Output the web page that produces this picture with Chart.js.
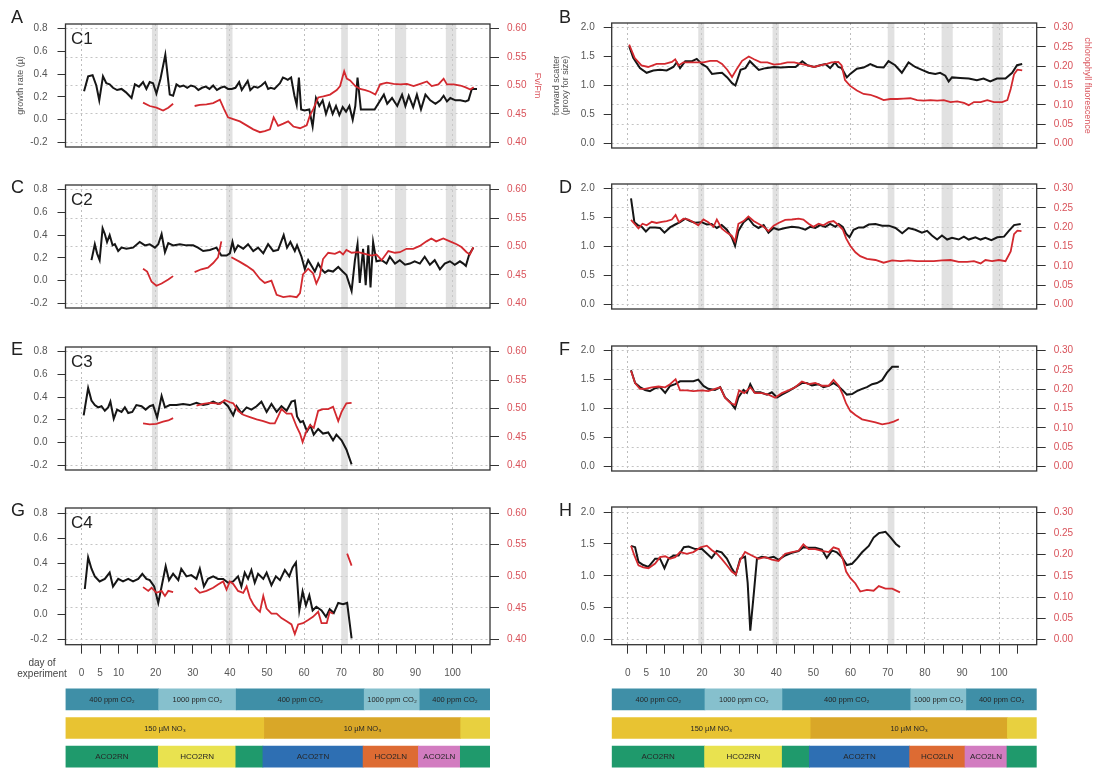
<!DOCTYPE html>
<html>
<head>
<meta charset="utf-8">
<script src="https://cdn.jsdelivr.net/npm/chart.js@4"></script>
<style>
html,body{margin:0;padding:0;background:#fff;width:1096px;height:769px;overflow:hidden;position:relative;}
canvas{position:absolute;}
.lbl{position:absolute;font-family:"Liberation Sans",Arial,sans-serif;line-height:1;color:#222;white-space:nowrap;}
</style>
</head>
<body>
<script>
// ---------- axis ticks and day layout ----------
const dayTicks = [0,5,10,15,20,25,30,35,40,45,50,55,60,65,70,75,80,85,90,95,100,105];
const dayLabels = [0,5,10,20,30,40,50,60,70,80,90,100];
const growthTicks = [-0.2,0,0.2,0.4,0.6,0.8];
const fvfmTicks = [0.40,0.45,0.50,0.55,0.60];
const scatterTicks = [0,0.5,1.0,1.5,2.0];
const chlTicks = [0,0.05,0.10,0.15,0.20,0.25,0.30];

// sampling pauses (shaded days)
const pauseStart = [19.0, 39.0, 70.0, 84.5, 98.2];
const pauseEnd   = [20.6, 40.7, 71.8, 87.5, 101.0];

// ---------- culture C1 ----------
const c1Growth = [[0.7,0.25],[1.8,0.38],[3,0.39],[4,0.30],[4.8,0.17],[5.8,0.38],[6.7,0.32],[7.6,0.31],[8.5,0.28],[9.6,0.26],[10.8,0.27],[12,0.24],[13.5,0.19],[14.4,0.31],[15.5,0.29],[16.6,0.33],[17.5,0.27],[18.4,0.33],[19.3,0.32],[20.2,0.23],[21.3,0.36],[22.6,0.57],[23.8,0.22],[24.7,0.21],[25.6,0.31],[26.5,0.29],[27.5,0.30],[28.5,0.28],[29.5,0.30],[30.5,0.29],[31.5,0.26],[32.5,0.28],[33.5,0.29],[34.5,0.27],[35.5,0.30],[36.5,0.26],[37.5,0.28],[38.5,0.29],[39.5,0.27],[40.5,0.27],[41.5,0.28],[42.5,0.33],[43.2,0.26],[44,0.30],[44.8,0.34],[45.5,0.26],[46.5,0.29],[47.5,0.28],[48.5,0.30],[49.5,0.33],[50.3,0.27],[51,0.28],[52,0.27],[53.5,0.32],[54.3,0.37],[55,0.36],[55.6,0.35],[56.5,0.37],[57.4,0.21],[58,0.13],[58.6,0.37],[59.2,0.09],[60.1,0.08],[61.4,0.09],[62.3,-0.06],[63.2,0.19],[64.1,0.12],[65,0.17],[65.9,0.05],[66.8,0.14],[67.7,0.05],[68.6,0.12],[69.5,0.04],[70.4,0.11],[71.3,0.07],[72.2,0.12],[73.1,0.00],[73.8,0.12],[74.4,0.37],[75.3,0.09],[77,0.09],[79,0.09],[81.5,0.22],[82.4,0.14],[83.7,0.19],[85.1,0.12],[86.4,0.22],[87.3,0.12],[88.2,0.21],[89.4,0.11],[90.4,0.22],[91.5,0.09],[92.7,0.22],[94,0.17],[95.4,0.14],[96.7,0.17],[97.6,0.21],[98.5,0.16],[99.4,0.19],[100.8,0.17],[102.1,0.17],[103.5,0.16],[104.3,0.17],[105.2,0.27],[106.6,0.27]];
const c1FvFm = [[16.6,0.470],[18.4,0.464],[20.2,0.461],[22,0.456],[23.4,0.461],[24.7,0.468],[27,null],[30.5,0.464],[31.9,0.466],[33.7,0.467],[35.5,0.469],[37.3,0.475],[38.4,0.459],[39.5,0.444],[40.9,0.441],[42.7,0.437],[44.5,0.430],[46.3,0.423],[48.1,0.418],[49.4,0.420],[50.8,0.423],[51.8,0.444],[53,0.429],[54.4,0.433],[55.7,0.437],[57.1,0.428],[58.9,0.425],[60.7,0.430],[61.6,0.448],[62.5,0.459],[63.8,0.479],[65.2,0.481],[67,0.484],[68.8,0.492],[69.7,0.499],[70.8,0.525],[71.5,0.512],[72.4,0.509],[73.8,0.499],[75.1,0.494],[76.5,0.492],[77.8,0.489],[79.2,0.484],[80.5,0.502],[82.3,0.505],[84.1,0.503],[85.9,0.502],[87.7,0.503],[89.5,0.499],[91.3,0.503],[93.1,0.507],[94.4,0.499],[96.2,0.502],[97.6,0.512],[98.5,0.502],[100.3,0.502],[102.1,0.500],[103.4,0.497],[104.8,0.493],[105.7,0.497]];
const c1Scatter = [[0.4,1.68],[1.5,1.48],[3.3,1.30],[5.1,1.22],[6.9,1.26],[8.7,1.27],[10.5,1.26],[12.3,1.32],[13.2,1.40],[14.1,1.30],[15.5,1.42],[17.3,1.42],[18.6,1.46],[20,1.37],[21.3,1.32],[22.7,1.20],[24.1,1.21],[25.4,1.22],[26.8,1.14],[28.1,1.04],[29,1.00],[30.4,1.27],[31.7,1.30],[32.9,1.42],[34,1.35],[35.3,1.27],[37.1,1.30],[39.4,1.32],[41.2,1.31],[43.4,1.32],[45.2,1.32],[47,1.42],[48.4,1.35],[50.2,1.32],[51.8,1.35],[53.2,1.37],[54.5,1.30],[55.8,1.40],[56.7,1.32],[57.6,1.30],[59,1.14],[59.9,1.20],[61.7,1.29],[63.5,1.31],[65.3,1.37],[67.1,1.32],[68.9,1.31],[70.2,1.42],[72,1.35],[73.8,1.22],[75.6,1.40],[77.4,1.32],[79.2,1.27],[81,1.22],[82.8,1.20],[84.1,1.22],[85.5,1.17],[86.4,1.07],[87.3,1.14],[89.5,1.13],[91.8,1.12],[94,1.09],[95.8,1.12],[97.6,1.07],[99.4,1.12],[101.7,1.12],[103.5,1.22],[104.8,1.35],[106.2,1.37]];
const c1Chl = [[0.4,0.256],[1.9,0.221],[3.7,0.202],[5.5,0.198],[7.8,0.206],[10,0.206],[11.9,0.211],[12.8,0.218],[13.7,0.202],[15,0.210],[16.8,0.210],[18.6,0.210],[20.4,0.210],[22.2,0.214],[24,0.214],[25.4,0.206],[26.8,0.191],[28.1,0.172],[29.5,0.195],[30.8,0.214],[32.6,0.225],[34,0.218],[35.8,0.210],[37.6,0.210],[39.4,0.204],[41.2,0.206],[43,0.210],[44.8,0.210],[46.6,0.206],[48.4,0.202],[50.2,0.198],[51.8,0.202],[53.6,0.206],[54.9,0.210],[56.7,0.211],[57.6,0.202],[58.5,0.164],[59.9,0.149],[61.7,0.137],[63.5,0.128],[65.3,0.126],[67.1,0.120],[68.9,0.112],[70.7,0.115],[72.5,0.115],[74.3,0.116],[76.1,0.117],[77.9,0.112],[79.7,0.111],[81.5,0.112],[83.3,0.111],[85.1,0.112],[86.9,0.107],[88.7,0.109],[90.5,0.105],[91.8,0.099],[93.2,0.107],[95,0.107],[96.8,0.112],[98.6,0.107],[100.8,0.107],[102.2,0.112],[103.1,0.141],[104,0.179],[104.9,0.191],[106.2,0.189]];

// ---------- culture C2 ----------
const c2Growth = [[2.7,0.18],[3.6,0.32],[4.2,0.24],[4.9,0.18],[5.7,0.46],[6.3,0.41],[6.9,0.34],[7.6,0.40],[8.4,0.31],[9,0.32],[9.9,0.26],[10.8,0.29],[12.1,0.28],[13.9,0.29],[15.7,0.34],[17.1,0.31],[18.4,0.32],[19.8,0.29],[20.7,0.32],[21.6,0.41],[22.5,0.25],[23.4,0.33],[24.7,0.31],[26.5,0.32],[28.3,0.31],[30.1,0.31],[31.4,0.29],[32.8,0.26],[34.6,0.27],[36.4,0.29],[37.7,0.22],[39.1,0.22],[40,0.24],[40.7,0.34],[41.3,0.26],[42.2,0.31],[43.6,0.28],[44.9,0.32],[46.3,0.26],[47.6,0.29],[49,0.24],[50.3,0.32],[51.7,0.26],[53,0.27],[54.5,0.40],[55.4,0.29],[56.3,0.34],[57.5,0.26],[58.1,0.31],[59.3,0.21],[60.2,0.10],[61.1,0.18],[62,0.13],[62.9,0.08],[63.8,0.15],[64.7,0.10],[65.6,0.07],[66.5,0.09],[67.8,0.08],[69.2,0.12],[70.4,0.08],[71.4,0.05],[72.8,-0.09],[73.7,0.18],[74.4,0.32],[75,-0.02],[75.9,0.28],[76.6,-0.04],[77.3,0.31],[77.9,-0.06],[78.6,0.34],[79.5,0.17],[80.9,0.18],[82.2,0.15],[83.1,0.21],[84.5,0.15],[85.8,0.18],[87.2,0.14],[88.5,0.15],[89.8,0.17],[91.2,0.15],[92.5,0.21],[93.9,0.14],[95.2,0.18],[96.6,0.10],[97.9,0.15],[99.3,0.17],[100.6,0.14],[102,0.17],[102.9,0.15],[103.6,0.13],[104.5,0.23],[105.6,0.29]];
const c2FvFm = [[16.6,0.461],[17.7,0.456],[18.9,0.438],[20.2,0.431],[21.6,0.435],[23.4,0.442],[24.7,0.448],[27,null],[30.5,0.455],[32.3,0.460],[34.1,0.463],[35.5,0.471],[36.8,0.481],[37.7,0.509],[39,null],[40.4,0.481],[42.7,0.473],[44.5,0.466],[46.3,0.458],[48.1,0.443],[49.4,0.436],[51.2,0.440],[52.6,0.415],[54.4,0.411],[56.2,0.413],[58,0.411],[58.9,0.418],[59.7,0.451],[61.1,0.461],[62.4,0.453],[63.3,0.435],[64.2,0.448],[65.1,0.478],[66.5,0.489],[68.3,0.487],[69.6,0.491],[70.5,0.486],[71.4,0.494],[72.8,0.489],[74.6,0.490],[76.4,0.487],[78.2,0.484],[79.5,0.486],[80.9,0.476],[82.7,0.492],[84.5,0.489],[85.8,0.490],[87.6,0.496],[89.4,0.496],[91.2,0.501],[93,0.509],[94.3,0.514],[95.6,0.509],[97.5,0.514],[99.3,0.509],[101.1,0.504],[102.4,0.499],[103.8,0.490],[104.7,0.486],[105.6,0.499]];
const c2Scatter = [[0.9,1.83],[1.8,1.42],[2.7,1.37],[3.8,1.34],[4.9,1.26],[6,1.33],[7.4,1.33],[8.7,1.32],[9.9,1.24],[11.4,1.33],[12.8,1.38],[14.1,1.42],[15.5,1.48],[16.8,1.44],[18.1,1.41],[19.9,1.42],[21.3,1.38],[22.6,1.39],[24,1.32],[25.3,1.37],[26.7,1.29],[28,1.16],[28.9,1.01],[29.8,1.27],[31.2,1.42],[32.5,1.49],[33.9,1.37],[35.2,1.32],[36.6,1.37],[37.9,1.24],[39.3,1.32],[40.6,1.29],[42.4,1.32],[44.2,1.34],[46,1.33],[47.8,1.29],[49.1,1.34],[50.5,1.32],[51.8,1.37],[53.2,1.34],[54.5,1.39],[55.9,1.34],[56.8,1.39],[57.9,1.34],[58.8,1.22],[59.7,1.16],[60.8,1.29],[62.2,1.33],[63.5,1.33],[64.9,1.38],[66.7,1.39],[68.5,1.36],[70.3,1.36],[72.1,1.32],[73.9,1.23],[75.6,1.32],[77.4,1.29],[79.2,1.24],[80.6,1.27],[81.9,1.19],[83.3,1.12],[84.6,1.19],[86,1.12],[87.3,1.15],[89.1,1.12],[90.5,1.17],[91.8,1.12],[93.6,1.16],[95,1.12],[96.3,1.15],[97.9,1.11],[99.5,1.16],[101.3,1.17],[102.6,1.27],[104,1.37],[105.8,1.39]];
const c2Chl = [[0.9,0.219],[2,0.207],[2.9,0.197],[4,0.209],[5.1,0.205],[6.5,0.214],[7.8,0.211],[9.2,0.214],[10.5,0.216],[11.9,0.220],[12.9,0.232],[13.8,0.213],[15,0.222],[16.4,0.220],[17.7,0.213],[19,0.205],[20.4,0.220],[21.7,0.213],[23.1,0.201],[24,0.220],[25.3,0.197],[26.7,0.186],[28,0.178],[28.9,0.163],[29.8,0.209],[31.2,0.216],[32.5,0.228],[33.9,0.216],[35.2,0.209],[36.6,0.201],[37.9,0.190],[39.3,0.204],[40.6,0.211],[42.4,0.219],[44.2,0.220],[46,0.222],[47.3,0.220],[48.7,0.209],[50,0.201],[51.4,0.209],[52.7,0.205],[54.1,0.213],[55.4,0.216],[56.8,0.205],[57.9,0.194],[58.8,0.171],[59.9,0.152],[61.3,0.135],[62.6,0.125],[64.4,0.118],[66.7,0.115],[68.9,0.108],[71.2,0.114],[73.4,0.112],[75.6,0.114],[77.9,0.112],[80.1,0.112],[82.4,0.112],[84.6,0.114],[86.9,0.115],[89.1,0.110],[91.4,0.110],[93.2,0.112],[95,0.106],[96.3,0.115],[98.1,0.112],[99.9,0.115],[101.7,0.112],[103.1,0.137],[104,0.182],[104.9,0.191],[106,0.190]];

// ---------- culture C3 ----------
const c3Growth = [[0.6,0.24],[1.8,0.48],[2.7,0.37],[3.6,0.33],[4.5,0.31],[5.4,0.32],[6.3,0.28],[7.2,0.31],[7.8,0.36],[8.7,0.21],[9.6,0.29],[10.8,0.27],[11.7,0.31],[12.6,0.26],[13.7,0.27],[14.8,0.33],[16.2,0.32],[17.3,0.29],[18.4,0.32],[19.3,0.33],[20.4,0.22],[21.6,0.41],[22.5,0.31],[23.8,0.33],[25.6,0.33],[27.4,0.34],[29.2,0.33],[31,0.35],[32.8,0.33],[34.1,0.34],[35.5,0.36],[36.8,0.34],[38.2,0.36],[39.5,0.32],[40.9,0.24],[41.8,0.32],[43.1,0.26],[44.5,0.31],[45.8,0.29],[47.2,0.32],[48.5,0.36],[49.9,0.27],[51.2,0.34],[52.6,0.27],[53.9,0.32],[55.3,0.28],[56.6,0.36],[57.5,0.37],[58.1,0.23],[59,0.18],[59.7,0.19],[60.8,0.10],[61.7,0.15],[62.6,0.07],[63.8,0.12],[65.1,0.08],[66.5,0.09],[67.8,0.02],[68.7,0.07],[70.1,0.02],[71.4,-0.06],[72.8,-0.19]];
const c3FvFm = [[16.6,0.474],[18.4,0.472],[20.2,0.473],[22,0.477],[23.4,0.479],[24.7,0.483],[27,null],[31,0.505],[32.8,0.508],[34.6,0.510],[36.4,0.509],[37.3,0.508],[38.6,0.515],[40,0.511],[40.9,0.509],[42.2,0.496],[43.6,0.489],[45.4,0.485],[47.2,0.481],[49,0.478],[50.8,0.474],[52.1,0.474],[53,0.486],[53.9,0.499],[55.3,0.491],[56.6,0.491],[58,0.468],[58.9,0.456],[59.6,0.441],[60.5,0.458],[61.6,0.471],[62.6,0.466],[63.8,0.496],[65.1,0.499],[66.5,0.499],[67.8,0.503],[69.2,0.478],[70.1,0.494],[71.4,0.509],[72.8,0.510]];
const c3Scatter = [[0.9,1.66],[2,1.44],[3.3,1.37],[4.7,1.32],[6,1.30],[7.4,1.35],[8.7,1.37],[10.1,1.27],[11.4,1.39],[12.8,1.42],[14.1,1.47],[15.9,1.47],[17.7,1.47],[19,1.50],[20.4,1.39],[21.7,1.34],[23.5,1.32],[24.9,1.37],[26.2,1.19],[27.6,1.11],[28.9,1.00],[29.8,1.19],[31.2,1.32],[32.1,1.27],[33,1.42],[34.1,1.28],[35.7,1.28],[37.5,1.24],[38.8,1.28],[40.2,1.19],[41.5,1.24],[43.3,1.30],[45.1,1.37],[46.9,1.44],[48.2,1.44],[49.6,1.40],[51.4,1.42],[52.7,1.37],[54.1,1.39],[55.4,1.44],[56.8,1.38],[58.1,1.30],[59,1.24],[60.4,1.25],[61.7,1.30],[63.1,1.34],[64.4,1.37],[65.8,1.42],[67.1,1.44],[68.5,1.49],[69.8,1.62],[71.2,1.72],[73,1.72]];
const c3Chl = [[0.9,0.248],[2,0.216],[3.3,0.201],[4.7,0.201],[6.5,0.205],[8.3,0.207],[10.1,0.205],[11.4,0.213],[12.9,0.226],[14.1,0.197],[15.9,0.197],[17.7,0.195],[20,0.197],[21.7,0.195],[23.5,0.201],[24.9,0.205],[26.2,0.178],[27.6,0.165],[28.9,0.159],[30,0.197],[31.4,0.190],[33,0.205],[34.3,0.190],[36.1,0.190],[37.9,0.186],[39.7,0.178],[41.5,0.190],[43.3,0.197],[45.1,0.205],[46.9,0.220],[48.7,0.213],[50.5,0.216],[52.3,0.209],[54.1,0.209],[55.4,0.224],[56.8,0.209],[57.9,0.186],[58.8,0.163],[59.9,0.144],[61.3,0.133],[63.1,0.122],[64.9,0.118],[66.7,0.114],[68.5,0.109],[70.3,0.112],[71.6,0.116],[73,0.122]];

// ---------- culture C4 ----------
const c4Growth = [[0.9,0.20],[1.8,0.45],[2.7,0.36],[3.6,0.30],[4.9,0.26],[6.3,0.28],[7.6,0.33],[8.5,0.22],[9.9,0.28],[11.2,0.26],[12.6,0.28],[13.9,0.26],[15.3,0.28],[16.4,0.32],[17.5,0.28],[18.4,0.27],[19.6,0.22],[20.7,0.09],[21.6,0.22],[22.7,0.38],[23.6,0.27],[24.7,0.32],[26.1,0.27],[26.9,0.36],[28.3,0.30],[29.6,0.31],[31,0.28],[31.9,0.36],[33,0.22],[34.1,0.28],[35.5,0.30],[36.8,0.28],[38.2,0.28],[39.5,0.25],[40.9,0.26],[42.2,0.30],[43.1,0.22],[44,0.33],[44.9,0.28],[45.8,0.35],[46.7,0.25],[47.6,0.32],[49,0.28],[49.9,0.33],[51.2,0.23],[52.4,0.30],[53.5,0.27],[54.8,0.35],[56,0.30],[56.9,0.37],[57.8,0.41],[58.7,0.03],[59.6,0.18],[60.5,0.07],[61.4,0.15],[62.3,0.03],[63.3,0.06],[64.7,0.03],[65.9,-0.02],[66.9,0.04],[68,0.01],[69.2,0.09],[70.5,0.08],[71.6,0.09],[72.8,-0.19]];
const c4FvFm = [[16.6,0.483],[18,0.477],[18.9,0.482],[20.2,0.474],[21.6,0.477],[22.5,0.469],[23.4,0.477],[24.7,0.475],[27,null],[30.5,0.482],[31.9,0.474],[33.7,0.477],[35.5,0.482],[36.8,0.487],[38.2,0.492],[39.1,0.479],[40,0.492],[40.9,0.488],[42.2,0.477],[43.6,0.474],[44.5,0.484],[45.4,0.466],[46.3,0.456],[47.2,0.449],[48.1,0.444],[49,0.469],[49.9,0.449],[51.2,0.441],[52.6,0.441],[53.9,0.434],[55.3,0.429],[56.6,0.424],[57.5,0.409],[58.4,0.424],[59.7,0.426],[61.1,0.431],[62.4,0.436],[63.8,0.444],[64.7,0.426],[66.1,0.426],[66.9,0.444],[67.8,0.441],[70,null],[71.6,0.536],[72.8,0.517]];
const c4Scatter = [[0.9,1.47],[2,1.45],[2.9,1.22],[4.2,1.17],[5.6,1.14],[7.4,1.27],[8.7,1.27],[9.9,1.12],[11,1.27],[12.4,1.32],[13.7,1.32],[15.1,1.45],[16.4,1.46],[18.2,1.42],[20,1.42],[21.3,1.35],[22.6,1.28],[24,1.39],[25.3,1.37],[26.7,1.27],[28,1.12],[29.1,1.02],[30.3,1.27],[31.6,1.30],[32.3,0.89],[33,0.14],[33.9,0.69],[34.8,1.27],[36.1,1.30],[37.9,1.28],[39.3,1.30],[40.6,1.25],[42.4,1.32],[44.2,1.36],[46,1.39],[47.3,1.45],[48.7,1.44],[50.5,1.44],[52.3,1.41],[53.6,1.28],[55,1.40],[56.3,1.37],[57.7,1.29],[59,1.17],[60.4,1.19],[61.7,1.27],[63.1,1.37],[64.9,1.47],[66.2,1.60],[67.6,1.67],[69.4,1.69],[70.8,1.60],[72.2,1.50],[73.3,1.45]];
const c4Chl = [[0.9,0.221],[1.8,0.198],[2.9,0.175],[4.2,0.170],[5.6,0.168],[7.4,0.179],[8.7,0.194],[10.1,0.196],[11.4,0.190],[12.8,0.194],[14.1,0.206],[15.9,0.202],[17.7,0.206],[19.6,0.217],[21.3,0.221],[22.6,0.211],[24,0.202],[25.3,0.190],[26.7,0.175],[28,0.160],[29.1,0.153],[30.3,0.187],[31.6,0.206],[33.4,0.198],[35.2,0.190],[37,0.194],[38.8,0.188],[40.6,0.185],[42.4,0.202],[44.2,0.206],[46,0.209],[47.3,0.224],[48.7,0.213],[50.5,0.213],[52.3,0.209],[54.1,0.206],[55.4,0.217],[56.8,0.213],[57.9,0.190],[58.8,0.160],[59.9,0.145],[61.3,0.132],[62.6,0.113],[64.4,0.117],[66.2,0.115],[67.6,0.126],[69.4,0.120],[71.2,0.120],[73.3,0.111]];

// ---------- treatment timeline (day boundaries) ----------
const co2Edges = [-4.3, 20.8, 41.7, 76.2, 91.2, 110.1];
const co2Names = ['400 ppm CO₂','1000 ppm CO₂','400 ppm CO₂','1000 ppm CO₂','400 ppm CO₂'];
const co2Colors = ['#3f8fa7','#86c0cd','#3f8fa7','#86c0cd','#3f8fa7'];
const no3Edges = [-4.3, 49.3, 102.2, 110.1];
const no3Names = ['150 µM NO₃','10 µM NO₃',''];
const no3Colors = ['#e8c332','#d9a728','#e8d03f'];
const phaseEdges = [-4.3, 20.7, 41.6, 48.9, 75.9, 90.8, 102.1, 110.1];
const phaseNames = ['ACO2RN','HCO2RN','','ACO2TN','HCO2LN','ACO2LN',''];
const phaseColors = ['#1f9a6c','#e9e24f','#1f9a6c','#2e6fb3','#dd6b33','#d27cc0','#1f9a6c'];

// ---------- layout ----------
const X_MIN = -4.3, X_MAX = 110.1;
const rowTops = [18.8, 179.7, 341.8, 502.7];
const PLOT_H = 142;
const FONT = '"Liberation Sans", Arial, sans-serif';
const RED = '#d3292f';
const RED_TEXT = '#d9525a';
const GREY_TEXT = '#555';

const columns = [
  { left: 0, width: 548, yW: 65.5, y1W: 58,
    yTicks: growthTicks, yMin: -0.24, yMax: 0.84, yDigits: 1,
    y1Ticks: fvfmTicks, y1Min: 0.392, y1Max: 0.608, y1Digits: 2,
    yTitle: 'growth rate (µ)', yTitlePad: 16.5, y1Title: 'Fv/Fm', y1TitlePad: 6.5,
    yLabelPad: 10, letterX: 11 },
  { left: 548, width: 548, yW: 63.7, y1W: 59.3,
    yTicks: scatterTicks, yMin: -0.08, yMax: 2.08, yDigits: 1,
    y1Ticks: chlTicks, y1Min: -0.012, y1Max: 0.312, y1Digits: 2,
    yTitle: ['forward scatter','(proxy for size)'], yTitlePad: 4.5, y1Title: 'chlorophyll fluorescence', y1TitlePad: 4.5,
    yLabelPad: 9, letterX: 559 }
];

const panels = [
  { letter:'A', tag:'C1', col:0, row:0, black:c1Growth,  red:c1FvFm, pauses:5 },
  { letter:'B', tag:null, col:1, row:0, black:c1Scatter, red:c1Chl,  pauses:5 },
  { letter:'C', tag:'C2', col:0, row:1, black:c2Growth,  red:c2FvFm, pauses:5 },
  { letter:'D', tag:null, col:1, row:1, black:c2Scatter, red:c2Chl,  pauses:5 },
  { letter:'E', tag:'C3', col:0, row:2, black:c3Growth,  red:c3FvFm, pauses:3 },
  { letter:'F', tag:null, col:1, row:2, black:c3Scatter, red:c3Chl,  pauses:3 },
  { letter:'G', tag:'C4', col:0, row:3, black:c4Growth,  red:c4FvFm, pauses:3 },
  { letter:'H', tag:null, col:1, row:3, black:c4Scatter, red:c4Chl,  pauses:3 }
];

function addCanvas(left, top, w, h) {
  const c = document.createElement('canvas');
  c.width = w; c.height = h;
  c.style.left = left + 'px'; c.style.top = top + 'px';
  c.style.width = w + 'px'; c.style.height = h + 'px';
  document.body.appendChild(c);
  return c;
}
function addLabel(text, left, top, size, extra) {
  const d = document.createElement('div');
  d.className = 'lbl';
  d.style.left = left + 'px'; d.style.top = top + 'px';
  d.style.fontSize = size + 'px';
  if (extra) Object.assign(d.style, extra);
  d.innerHTML = text;
  document.body.appendChild(d);
}
const toPoints = pairs => pairs.map(p => ({ x: p[0], y: p[1] }));

// shaded sampling pauses
function pausePlugin(count) {
  return {
    id: 'pauses',
    beforeDatasetsDraw(chart) {
      const { ctx, chartArea: a, scales: { x } } = chart;
      ctx.save();
      ctx.fillStyle = 'rgba(205,205,205,0.6)';
      for (let i = 0; i < count; i++) {
        const x0 = x.getPixelForValue(pauseStart[i]);
        const x1 = x.getPixelForValue(pauseEnd[i]);
        ctx.fillRect(x0, a.top, x1 - x0, a.bottom - a.top);
      }
      ctx.restore();
    }
  };
}
// frame around plot region
const framePlugin = {
  id: 'frame',
  afterDraw(chart) {
    const { ctx, chartArea: a } = chart;
    ctx.save();
    ctx.strokeStyle = '#333';
    ctx.lineWidth = 1.3;
    ctx.strokeRect(a.left, a.top, a.right - a.left, a.bottom - a.top);
    ctx.restore();
  }
};

panels.forEach(p => {
  const col = columns[p.col];
  const bottomRow = p.row === 3;
  const canvasTop = Math.floor(rowTops[p.row] - 10);
  const padTop = rowTops[p.row] - canvasTop;
  const xH = bottomRow ? 36 : 0;
  const h = Math.ceil(padTop + PLOT_H + xH + 2);
  const canvas = addCanvas(col.left, canvasTop, col.width, h);
  const padBottom = h - padTop - PLOT_H - xH;
  const firstRow = p.row === 0;

  new Chart(canvas, {
    type: 'line',
    data: {
      datasets: [
        { data: toPoints(p.red), yAxisID: 'y1', borderColor: RED, borderWidth: 1.8 },
        { data: toPoints(p.black), yAxisID: 'y', borderColor: '#161616', borderWidth: 2 }
      ]
    },
    options: {
      responsive: false,
      animation: false,
      devicePixelRatio: 1,
      layout: { padding: { top: padTop, bottom: padBottom, left: 0, right: 0 } },
      elements: { point: { radius: 0 }, line: { tension: 0, spanGaps: false } },
      plugins: { legend: { display: false }, tooltip: { enabled: false } },
      scales: {
        x: {
          type: 'linear', min: X_MIN, max: X_MAX,
          afterBuildTicks: s => { s.ticks = dayTicks.map(v => ({ value: v })); },
          afterFit: s => { s.height = xH; },
          border: { display: false, dash: [2, 3] },
          grid: {
            color: c => (c.tick && c.tick.value % 20 === 0) ? '#bdbdbd' : 'rgba(0,0,0,0)',
            drawTicks: bottomRow, tickLength: 9, tickColor: '#333', tickWidth: 1, lineWidth: 1
          },
          ticks: {
            display: bottomRow, autoSkip: false, maxRotation: 0, padding: 14,
            color: GREY_TEXT, font: { family: FONT, size: 10 },
            callback: v => dayLabels.includes(v) ? String(v) : ''
          }
        },
        y: {
          position: 'left', min: col.yMin, max: col.yMax,
          afterBuildTicks: s => { s.ticks = col.yTicks.map(v => ({ value: v })); },
          afterFit: s => { s.width = col.yW; },
          border: { display: false },
          grid: { drawOnChartArea: false, drawTicks: true, tickLength: 8, tickColor: '#333', tickWidth: 1 },
          ticks: {
            padding: col.yLabelPad, color: GREY_TEXT, font: { family: FONT, size: 10 },
            callback: v => Number(v).toFixed(col.yDigits)
          },
          title: {
            display: firstRow, text: col.yTitle, color: GREY_TEXT,
            font: { family: FONT, size: 9, lineHeight: 1 }, padding: { top: col.yTitlePad, bottom: 0 }
          }
        },
        y1: {
          position: 'right', min: col.y1Min, max: col.y1Max,
          afterBuildTicks: s => { s.ticks = col.y1Ticks.map(v => ({ value: v })); },
          afterFit: s => { s.width = col.y1W; },
          border: { display: false, dash: [2, 3] },
          grid: { drawOnChartArea: true, color: '#c4c4c4', lineWidth: 1, drawTicks: true, tickLength: 9, tickColor: '#333', tickWidth: 1 },
          ticks: {
            padding: 8, color: RED_TEXT, font: { family: FONT, size: 10 },
            callback: v => Number(v).toFixed(col.y1Digits)
          },
          title: {
            display: firstRow, text: col.y1Title, color: RED_TEXT,
            font: { family: FONT, size: 9, lineHeight: 1 }, padding: { top: col.y1TitlePad, bottom: 0 }
          }
        }
      }
    },
    plugins: [pausePlugin(p.pauses), framePlugin]
  });

  // panel letter and culture tag
  const letterTop = firstRow ? 7.7 : rowTops[p.row] - 1.5;
  addLabel(p.letter, col.letterX, letterTop, 18);
  if (p.tag) addLabel(p.tag, col.left + 71, rowTops[p.row] + 11, 17);
});

// x-axis caption
addLabel('day of<br>experiment', 13, 656.5, 10, { width: '58px', textAlign: 'center', color: '#444', lineHeight: '11px' });

// ---------- treatment timeline bars ----------
const rowNames = ['co2', 'no3', 'phase'];
function segments(edges, names, colors, row) {
  return names.map((n, i) => ({ x: [edges[i], edges[i + 1]], y: row, name: n, color: colors[i] }));
}
const timeline = [
  ...segments(co2Edges, co2Names, co2Colors, 'co2'),
  ...segments(no3Edges, no3Names, no3Colors, 'no3'),
  ...segments(phaseEdges, phaseNames, phaseColors, 'phase')
];
const barTextPlugin = {
  id: 'barText',
  afterDatasetsDraw(chart) {
    const { ctx } = chart;
    const meta = chart.getDatasetMeta(0);
    ctx.save();
    ctx.textAlign = 'center';
    ctx.textBaseline = 'middle';
    ctx.fillStyle = '#262626';
    meta.data.forEach((el, i) => {
      const seg = timeline[i];
      if (!seg.name) return;
      ctx.font = (seg.y === 'phase' ? '8px ' : '7.5px ') + FONT;
      ctx.fillText(seg.name, (el.x + el.base) / 2, el.y + 0.5);
    });
    ctx.restore();
  }
};
columns.forEach(col => {
  const canvas = addCanvas(col.left, 685, col.width, 86);
  new Chart(canvas, {
    type: 'bar',
    data: {
      labels: rowNames,
      datasets: [{
        data: timeline.map(s => ({ x: s.x, y: s.y })),
        backgroundColor: timeline.map(s => s.color),
        borderWidth: 0, barThickness: 21, grouped: false
      }]
    },
    options: {
      indexAxis: 'y',
      responsive: false, animation: false, devicePixelRatio: 1,
      layout: { padding: { left: col.yW, right: col.y1W, top: 0, bottom: 0 } },
      plugins: { legend: { display: false }, tooltip: { enabled: false } },
      scales: {
        x: { type: 'linear', min: X_MIN, max: X_MAX, display: false },
        y: { type: 'category', labels: rowNames, display: false }
      }
    },
    plugins: [barTextPlugin]
  });
});
</script>
</body>
</html>
